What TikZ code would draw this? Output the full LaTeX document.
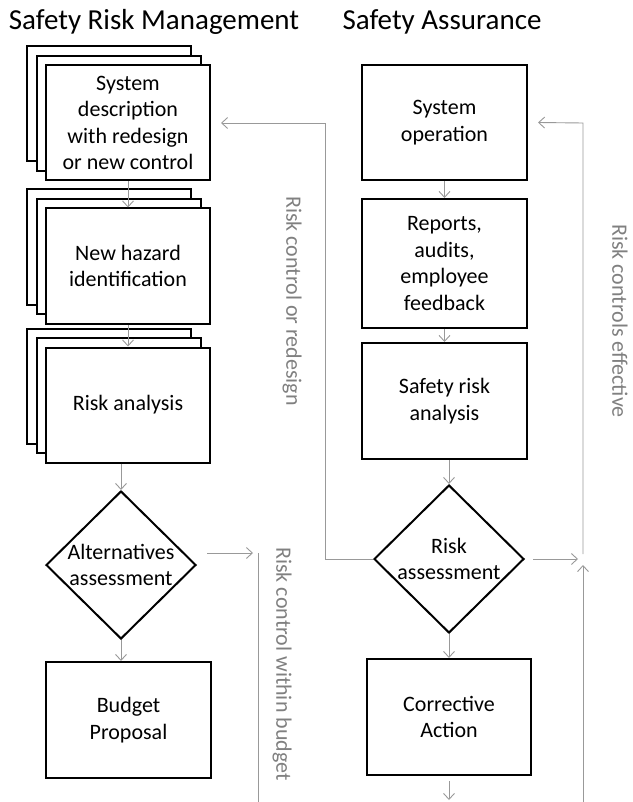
\documentclass[tikz,border=0pt]{standalone}
\usepackage{fontspec}
\setmainfont{Carlito}
\usepackage{tikz}
\usetikzlibrary{arrows.meta, positioning, shapes.geometric}

\newcommand{\boxfont}{\fontsize{22}{26.5}\selectfont}
\newcommand{\headfont}{\fontsize{29}{33}\selectfont}

\tikzset{
  card/.style={draw, line width=2pt, fill=white, minimum width=164pt, minimum height=115pt,
    align=center, inner sep=0pt, font=\boxfont},
  decide/.style={draw, diamond, line width=2pt, fill=white, minimum width=150pt,
    minimum height=148pt, inner sep=0pt},
  dtext/.style={font=\boxfont, align=center, inner sep=0pt},
  flow/.style={draw=gray!80, line width=0.9pt, -{Straight Barb[length=6pt,width=11pt]}},
  wire/.style={draw=gray!80, line width=0.9pt},
  note/.style={text=gray, font=\boxfont, rotate=-90},
  heading/.style={font=\headfont},
}

\begin{document}
\begin{tikzpicture}[x=1pt, y=-1pt]

\useasboundingbox (0,0) rectangle (632,802);

% headings
\node[heading] (srm) at (154,22) {Safety Risk Management};
\node[heading] (sa) at (442,22) {Safety Assurance};

% risk management side
\node[card] (sysd3) at (109,104) {};
\node[card] (sysd2) at (118.5,113.5) {};
\node[card] (sysd) at (128,123) {System\\description\\with redesign\\or new control};

\node[card] (hazd3) at (109,247) {};
\node[card] (hazd2) at (118.5,256.5) {};
\node[card] (hazd) at (128,266) {New hazard\\identification};

\node[card] (rska3) at (109,386) {};
\node[card] (rska2) at (118.5,395.5) {};
\node[card] (rska) at (128,405) {Risk analysis};

\node[decide, label={[dtext]center:Alternatives\\assessment}] (alt) at (121,565) {};
\node[card, minimum width=165pt, minimum height=116pt] (bud) at (128.5,720) {Budget\\Proposal};

% assurance side
\node[card, minimum width=165pt] (sysop) at (444.5,122.5) {System\\operation};
\node[card, minimum width=165pt, minimum height=129pt] (rep) at (444.5,263.5) {Reports,\\audits,\\employee\\feedback};
\node[card, minimum width=165pt, minimum height=116pt] (sra) at (444.5,401) {Safety risk\\analysis};
\node[decide, label={[dtext]center:Risk\\assessment}] (rass) at (449,559) {};
\node[card, minimum height=116pt] (corr) at (449,717) {Corrective\\Action};

% free ends
\coordinate (redoturn) at (325,123);
\coordinate (budin) at (253,553);
\coordinate (budtop) at (258,553);
\coordinate (budbot) at (258,802);
\coordinate (effin) at (578,559);
\coordinate (efftop) at (583,554);
\coordinate (effturn) at (583,123);
\coordinate (effjoin) at (583,565);
\coordinate (effbot) at (583,802);
\coordinate (out) at (449,800);

% arrows
\draw[flow] (sysd) -- (hazd);
\draw[flow] (hazd) -- (rska);
\draw[flow] (rska.south -| alt) -- (alt.north);
\draw[flow] (alt.south) -- (alt.south |- bud.north);

\draw[flow] (sysop) -- (rep);
\draw[flow] (rep) -- (sra);
\draw[flow] (sra.south -| rass) -- (rass.north);
\draw[flow] (rass) -- (corr);
\draw[flow, shorten <=5pt] (corr.south) -- (out);

% feedback
\draw[flow] (rass.west) -| (redoturn) -- ([xshift=10pt]sysd.east);
\draw[flow, shorten <=10pt] (alt.east |- budin) -- (budin);
\draw[wire] (budtop) -- (budbot);
\draw[flow, shorten <=8pt] (rass.east) -- (effin);
\draw[flow] (efftop) -- (effturn) -- ([xshift=10pt]sysop.east);
\draw[flow] (effbot) -- (effjoin);

% labels
\node[note] (lblredo) at (292,301) {Risk control or redesign};
\node[note] (lblbudget) at (282,664) {Risk control within budget};
\node[note] (lbleff) at (620,321) {Risk controls effective};

\end{tikzpicture}
\end{document}
